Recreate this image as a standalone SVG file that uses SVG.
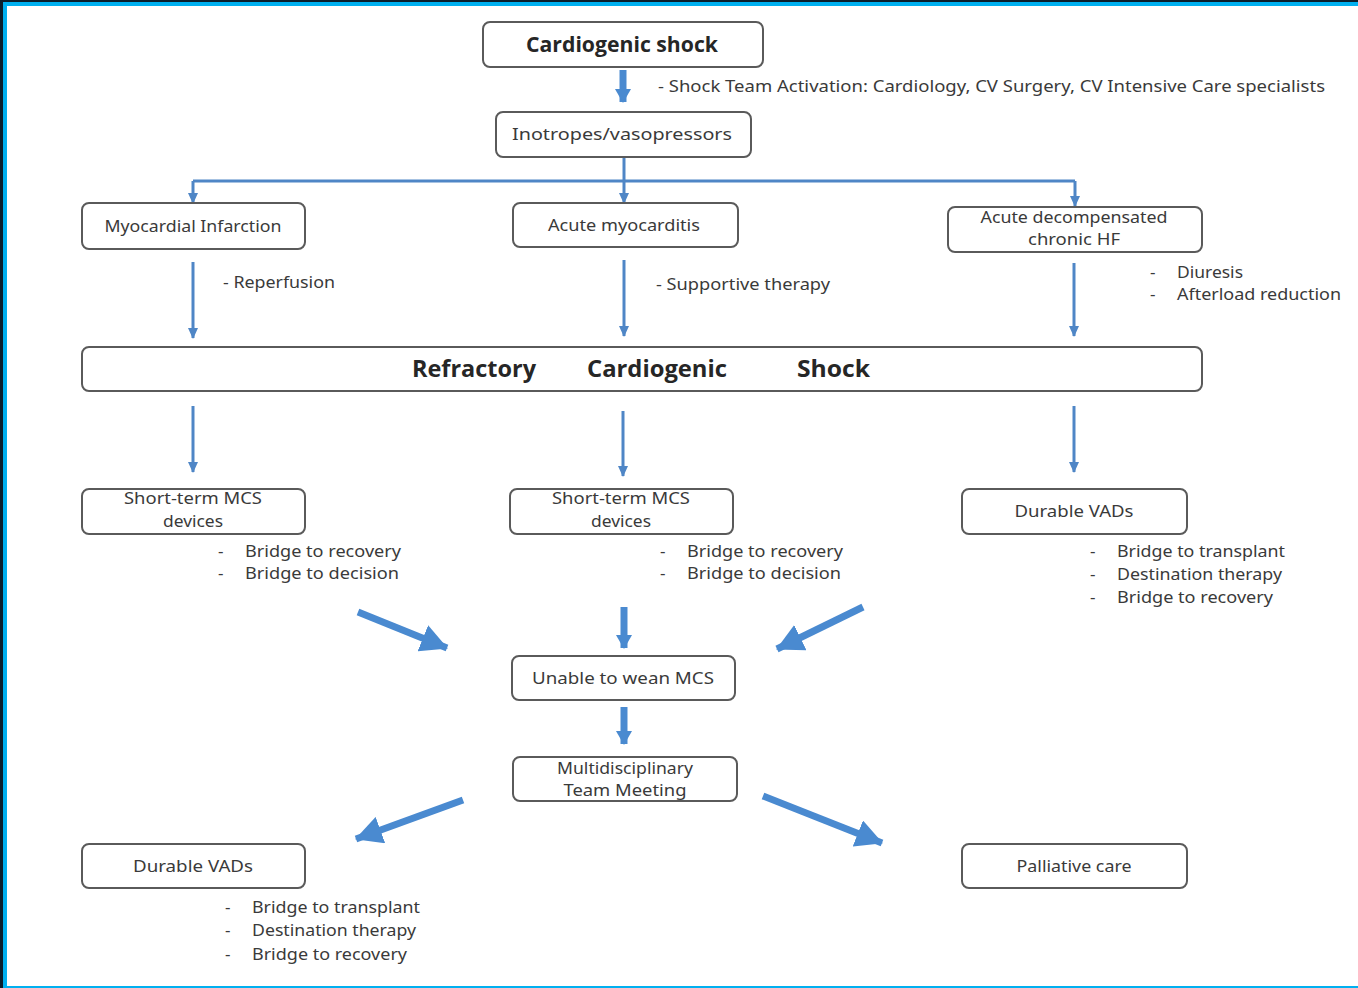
<svg xmlns="http://www.w3.org/2000/svg" width="1358" height="988" viewBox="0 0 1358 988">
  <style>
    .box { fill: #ffffff; stroke: #5a5a5a; stroke-width: 2; }
    .t { font-family: "Noto Sans", "Open Sans", sans-serif; font-size: 17px; fill: #3a3a3a; text-anchor: middle; }
    .tl { font-family: "Noto Sans", "Open Sans", sans-serif; font-size: 17px; fill: #3a3a3a; }
    .b { font-family: "Open Sans", "Noto Sans", sans-serif; font-weight: bold; fill: #262626; }
    .thin { fill: none; stroke: #4f86c6; stroke-width: 3; }
    .thick { fill: none; stroke: #4a8ad0; stroke-width: 7; }
  </style>
  <defs>
    <marker id="headThin" markerUnits="userSpaceOnUse" markerWidth="12" markerHeight="12" refX="10" refY="6" orient="auto">
      <path d="M0,1 L11,6 L0,11 z" fill="#4f86c6"/>
    </marker>
    <marker id="headShort" markerUnits="userSpaceOnUse" markerWidth="16" markerHeight="16" refX="13" refY="8" orient="auto">
      <path d="M0,0 L14,8 L0,16 z" fill="#4a8ad0"/>
    </marker>
    <marker id="headWide" markerUnits="userSpaceOnUse" markerWidth="28" markerHeight="28" refX="26" refY="14" orient="auto">
      <path d="M0,0 L27,14 L0,28 z" fill="#4a8ad0"/>
    </marker>
  </defs>

  <!-- frame -->
  <rect x="0" y="0" width="1358" height="988" fill="#0b1e2c"/>
  <rect x="3" y="2" width="1355" height="986" fill="#00b0f0"/>
  <rect x="7" y="6" width="1351" height="980" fill="#ffffff"/>

  <!-- connectors -->
  <g id="connectors">
    <path class="thick" d="M623,70 L623,102" marker-end="url(#headShort)"/>
    <path class="thin" d="M624,157 L624,181"/>
    <path class="thin" d="M193,181 L1075,181"/>
    <path class="thin" d="M193,181 L193,203" marker-end="url(#headThin)"/>
    <path class="thin" d="M624,181 L624,203" marker-end="url(#headThin)"/>
    <path class="thin" d="M1075,181 L1075,206" marker-end="url(#headThin)"/>
    <path class="thin" d="M193,262 L193,338" marker-end="url(#headThin)"/>
    <path class="thin" d="M624,260 L624,336" marker-end="url(#headThin)"/>
    <path class="thin" d="M1074,263 L1074,336" marker-end="url(#headThin)"/>
    <path class="thin" d="M193,406 L193,472" marker-end="url(#headThin)"/>
    <path class="thin" d="M623,411 L623,476" marker-end="url(#headThin)"/>
    <path class="thin" d="M1074,406 L1074,472" marker-end="url(#headThin)"/>
    <path class="thick" d="M358,612 L447,648" marker-end="url(#headWide)"/>
    <path class="thick" d="M624,607 L624,648" marker-end="url(#headShort)"/>
    <path class="thick" d="M863,607 L777,649" marker-end="url(#headWide)"/>
    <path class="thick" d="M624,707 L624,744" marker-end="url(#headShort)"/>
    <path class="thick" d="M463,800 L356,839" marker-end="url(#headWide)"/>
    <path class="thick" d="M763,796 L882,843" marker-end="url(#headWide)"/>
  </g>

  <g id="cardiogenic-shock">
    <rect class="box" x="483" y="22" width="280" height="45" rx="7"/>
    <text class="b" x="622" y="52" font-size="21" text-anchor="middle" textLength="192" lengthAdjust="spacingAndGlyphs">Cardiogenic shock</text>
  </g>
  <text class="tl" x="658" y="92" textLength="667" lengthAdjust="spacingAndGlyphs">- Shock Team Activation: Cardiology, CV Surgery, CV Intensive Care specialists</text>

  <g id="inotropes">
    <rect class="box" x="496" y="112" width="255" height="45" rx="7"/>
    <text class="t" x="622" y="140" textLength="220" lengthAdjust="spacingAndGlyphs">Inotropes/vasopressors</text>
  </g>

  <g id="myocardial-infarction">
    <rect class="box" x="82" y="203" width="223" height="46" rx="7"/>
    <text class="t" x="193" y="232" textLength="177" lengthAdjust="spacingAndGlyphs">Myocardial Infarction</text>
  </g>
  <g id="acute-myocarditis">
    <rect class="box" x="513" y="203" width="225" height="44" rx="7"/>
    <text class="t" x="624" y="231" textLength="152" lengthAdjust="spacingAndGlyphs">Acute myocarditis</text>
  </g>
  <g id="acute-decompensated-hf">
    <rect class="box" x="948" y="207" width="254" height="45" rx="7"/>
    <text class="t" x="1074" y="223" textLength="187" lengthAdjust="spacingAndGlyphs">Acute decompensated</text>
    <text class="t" x="1074" y="245" textLength="92" lengthAdjust="spacingAndGlyphs">chronic HF</text>
  </g>

  <text class="tl" x="223" y="288" textLength="112" lengthAdjust="spacingAndGlyphs">- Reperfusion</text>
  <text class="tl" x="656" y="290" textLength="174" lengthAdjust="spacingAndGlyphs">- Supportive therapy</text>
  <text class="tl" x="1150" y="278">-</text>
  <text class="tl" x="1177" y="278" textLength="66" lengthAdjust="spacingAndGlyphs">Diuresis</text>
  <text class="tl" x="1150" y="300">-</text>
  <text class="tl" x="1177" y="300" textLength="164" lengthAdjust="spacingAndGlyphs">Afterload reduction</text>

  <g id="refractory-shock">
    <rect class="box" x="82" y="347" width="1120" height="44" rx="7"/>
    <text class="b" x="412" y="377" font-size="24" textLength="124" lengthAdjust="spacingAndGlyphs">Refractory</text>
    <text class="b" x="587" y="377" font-size="24" textLength="140" lengthAdjust="spacingAndGlyphs">Cardiogenic</text>
    <text class="b" x="797" y="377" font-size="24" textLength="73" lengthAdjust="spacingAndGlyphs">Shock</text>
  </g>

  <g id="short-term-mcs-left">
    <rect class="box" x="82" y="489" width="223" height="45" rx="7"/>
    <text class="t" x="193" y="504" textLength="138" lengthAdjust="spacingAndGlyphs">Short-term MCS</text>
    <text class="t" x="193" y="527" textLength="60" lengthAdjust="spacingAndGlyphs">devices</text>
  </g>
  <g id="short-term-mcs-middle">
    <rect class="box" x="510" y="489" width="223" height="45" rx="7"/>
    <text class="t" x="621" y="504" textLength="138" lengthAdjust="spacingAndGlyphs">Short-term MCS</text>
    <text class="t" x="621" y="527" textLength="60" lengthAdjust="spacingAndGlyphs">devices</text>
  </g>
  <g id="durable-vads-top">
    <rect class="box" x="962" y="489" width="225" height="45" rx="7"/>
    <text class="t" x="1074" y="517" textLength="119" lengthAdjust="spacingAndGlyphs">Durable VADs</text>
  </g>

  <text class="tl" x="218" y="557">-</text>
  <text class="tl" x="245" y="557" textLength="156" lengthAdjust="spacingAndGlyphs">Bridge to recovery</text>
  <text class="tl" x="218" y="579">-</text>
  <text class="tl" x="245" y="579" textLength="154" lengthAdjust="spacingAndGlyphs">Bridge to decision</text>

  <text class="tl" x="660" y="557">-</text>
  <text class="tl" x="687" y="557" textLength="156" lengthAdjust="spacingAndGlyphs">Bridge to recovery</text>
  <text class="tl" x="660" y="579">-</text>
  <text class="tl" x="687" y="579" textLength="154" lengthAdjust="spacingAndGlyphs">Bridge to decision</text>

  <text class="tl" x="1090" y="557">-</text>
  <text class="tl" x="1117" y="557" textLength="168" lengthAdjust="spacingAndGlyphs">Bridge to transplant</text>
  <text class="tl" x="1090" y="580">-</text>
  <text class="tl" x="1117" y="580" textLength="165" lengthAdjust="spacingAndGlyphs">Destination therapy</text>
  <text class="tl" x="1090" y="603">-</text>
  <text class="tl" x="1117" y="603" textLength="156" lengthAdjust="spacingAndGlyphs">Bridge to recovery</text>

  <g id="unable-to-wean">
    <rect class="box" x="512" y="656" width="223" height="44" rx="7"/>
    <text class="t" x="623" y="684" textLength="182" lengthAdjust="spacingAndGlyphs">Unable to wean MCS</text>
  </g>
  <g id="team-meeting">
    <rect class="box" x="513" y="757" width="224" height="44" rx="7"/>
    <text class="t" x="625" y="774" textLength="136" lengthAdjust="spacingAndGlyphs">Multidisciplinary</text>
    <text class="t" x="625" y="796" textLength="123" lengthAdjust="spacingAndGlyphs">Team Meeting</text>
  </g>

  <g id="durable-vads-bottom">
    <rect class="box" x="82" y="844" width="223" height="44" rx="7"/>
    <text class="t" x="193" y="872" textLength="120" lengthAdjust="spacingAndGlyphs">Durable VADs</text>
  </g>
  <g id="palliative-care">
    <rect class="box" x="962" y="844" width="225" height="44" rx="7"/>
    <text class="t" x="1074" y="872" textLength="115" lengthAdjust="spacingAndGlyphs">Palliative care</text>
  </g>

  <text class="tl" x="225" y="913">-</text>
  <text class="tl" x="252" y="913" textLength="168" lengthAdjust="spacingAndGlyphs">Bridge to transplant</text>
  <text class="tl" x="225" y="936">-</text>
  <text class="tl" x="252" y="936" textLength="164" lengthAdjust="spacingAndGlyphs">Destination therapy</text>
  <text class="tl" x="225" y="960">-</text>
  <text class="tl" x="252" y="960" textLength="155" lengthAdjust="spacingAndGlyphs">Bridge to recovery</text>
</svg>
